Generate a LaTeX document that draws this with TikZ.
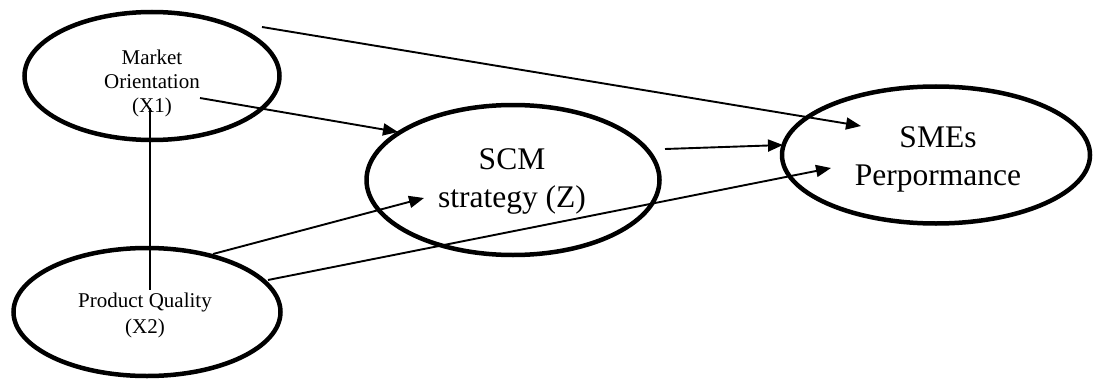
\documentclass[tikz,border=0pt]{standalone}
\usepackage{fontspec}
\setmainfont{Liberation Serif}
\usetikzlibrary{shapes.geometric,arrows.meta}
\begin{document}
\begin{tikzpicture}[x=1pt,y=1pt,
  oval/.style={draw,ellipse,line width=4.5pt,inner sep=0pt},
  small/.style={align=center,font=\fontsize{21}{24}\selectfont},
  big/.style={align=center,font=\fontsize{31.5}{38}\selectfont},
  conn/.style={line width=1.9pt},
  arr/.style={conn,-{Triangle[length=15pt,width=12pt]}}]
\useasboundingbox (0,0) rectangle (1094,381);
% ellipses (y = 381 - pixel y)
\node[oval,minimum width=255,minimum height=128] (mo) at (152,305) {};
\node[oval,minimum width=267,minimum height=128] (pq) at (147,69) {};
\node[oval,minimum width=293,minimum height=150] (scm) at (513,201) {};
\node[oval,minimum width=308,minimum height=137] (sme) at (936,226) {};
% texts
\node[small] (motext) at (152,298) {Market\\Orientation\\(X1)};
\node[small,font=\fontsize{21}{26}\selectfont] (pqtext) at (145,66) {Product Quality\\(X2)};
\node[big] (scmtext) at (512,200) {SCM\\strategy (Z)};
\node[big] (smetext) at (938,222) {SMEs\\Perpormance};
% connector end points
\coordinate (a1s) at (262,354);
\coordinate (a1e) at (861,255);
\coordinate (a2s) at (200,283);
\coordinate (a2e) at (398,249);
\coordinate (vs) at (150,273);
\coordinate (ve) at (150,91);
\coordinate (a4s) at (213,127);
\coordinate (a4e) at (424,183);
\coordinate (a5s) at (268,101);
\coordinate (a5e) at (831,213);
\coordinate (a6s) at (665,232);
\coordinate (a6e) at (783,236);
% connectors
\draw[arr] (a1s) -- (a1e);
\draw[arr] (a2s) -- (a2e);
\draw[conn] (vs) -- (ve);
\draw[arr] (a4s) -- (a4e);
\draw[arr] (a5s) -- (a5e);
\draw[arr] (a6s) -- (a6e);
\end{tikzpicture}
\end{document}
